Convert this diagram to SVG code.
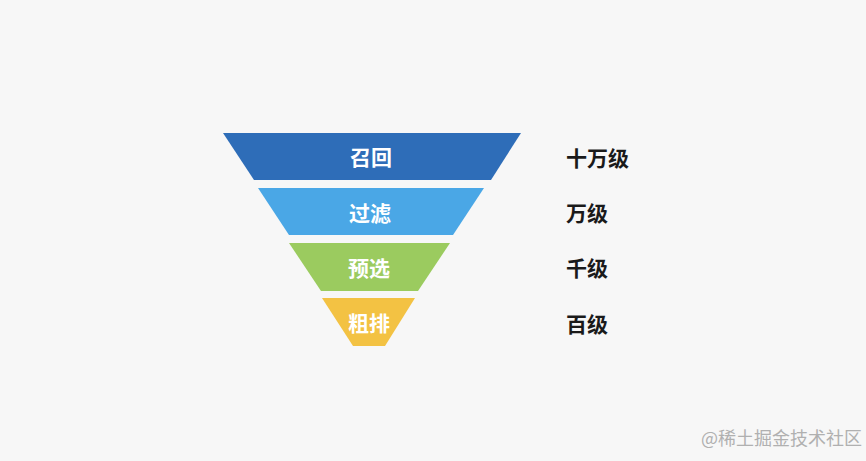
<svg xmlns="http://www.w3.org/2000/svg" width="866" height="461" viewBox="0 0 866 461">
<style>
.lbl{font-family:"Noto Sans CJK SC","Liberation Sans",sans-serif;font-weight:bold;font-size:21px;fill:#ffffff;text-anchor:middle;dominant-baseline:central}
.side{font-family:"Noto Sans CJK SC","Liberation Sans",sans-serif;font-weight:bold;font-size:21px;fill:#1a1a1a;dominant-baseline:central}
.wm{font-family:"Noto Sans CJK SC","Liberation Sans",sans-serif;font-size:18px;fill:#b0b0b0}
</style>
<rect width="866" height="461" fill="#f7f7f7"/>
<g id="recall">
<polygon points="223,133 521,133 491,180 254,180" fill="#2e6db8"/>
<text class="lbl" x="371" y="156">召回</text>
</g>
<g id="filter">
<polygon points="258,188 484,188 453,235 289,235" fill="#4aa7e6"/>
<text class="lbl" x="370" y="212">过滤</text>
</g>
<g id="preselect">
<polygon points="289,243 450,243 418,291 321,291" fill="#9bcb5f"/>
<text class="lbl" x="369" y="267">预选</text>
</g>
<g id="coarse">
<polygon points="322,298 415,298 385,346 353,346" fill="#f3c243"/>
<text class="lbl" x="369" y="322">粗排</text>
</g>
<g id="connectors"></g>
<g id="scale">
<text class="side" x="566" y="157">十万级</text>
<text class="side" x="566" y="212">万级</text>
<text class="side" x="566" y="267">千级</text>
<text class="side" x="566" y="323">百级</text>
</g>
<text class="wm" x="701" y="445">@稀土掘金技术社区</text>
</svg>
